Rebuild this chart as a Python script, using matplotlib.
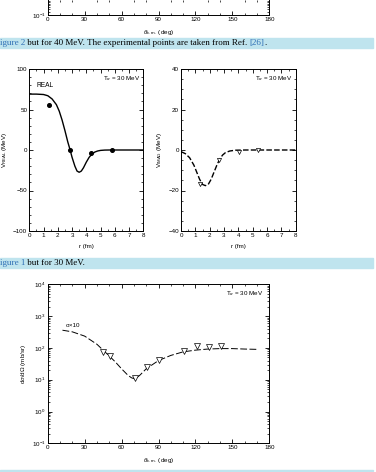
import numpy as np
import matplotlib
matplotlib.use("Agg")
import matplotlib.pyplot as plt
from matplotlib.ticker import MultipleLocator, LogLocator, NullFormatter
from matplotlib.patches import Rectangle

W, H = 376, 472
CAP_BG = "#bfe4ee"
LINK = "#2f6fb5"

plt.rcParams.update({
    "font.family": "Liberation Sans",
    "font.size": 4.5,
    "mathtext.fontset": "custom",
    "mathtext.rm": "Liberation Sans",
    "mathtext.it": "Liberation Sans:italic",
    "axes.linewidth": 0.7,
    "xtick.direction": "in", "ytick.direction": "in",
    "xtick.top": True, "ytick.right": True,
    "xtick.major.size": 3, "ytick.major.size": 3,
    "xtick.minor.size": 1.6, "ytick.minor.size": 1.6,
    "xtick.major.width": 0.6, "ytick.major.width": 0.6,
    "xtick.minor.width": 0.5, "ytick.minor.width": 0.5,
    "xtick.major.pad": 1.5, "ytick.major.pad": 1.5,
})

# --- data ---
r_real = [0, 0.5, 1.0, 1.3, 1.6, 1.9, 2.1, 2.3, 2.5, 2.7, 2.85, 3.0, 3.2, 3.35,
          3.5, 3.65, 3.8, 4.0, 4.2, 4.4, 4.6, 4.8, 5.0, 5.3, 5.6, 8.0]
v_real = [69, 69, 68.5, 67, 63, 56, 48, 37, 24, 10, 1, -9, -20, -26,
          -27.5, -26, -22, -15, -9, -5, -2.5, -1.2, -0.5, -0.1, 0, 0]
r_real_pts = [1.40, 2.88, 4.33, 5.80]
v_real_pts = [55, 0, -3.3, 0]

r_imag = [0, 0.3, 0.6, 0.9, 1.1, 1.3, 1.5, 1.7, 1.9, 2.1, 2.3, 2.5, 2.7, 2.9,
          3.1, 3.4, 3.8, 4.5, 8.0]
v_imag = [-0.8, -1.8, -3.8, -7.5, -11, -14.5, -17, -17.6, -17, -14.5, -11,
          -7.5, -4.5, -2.5, -1.3, -0.5, -0.1, 0, 0]
r_imag_pts = [1.33, 2.67, 4.02, 5.39]
v_imag_pts = [-16.7, -5.1, -1.1, 0]

theta_fit = [12, 20, 30, 40, 45, 50, 55, 60, 65, 68, 71, 75, 80, 90, 100,
             110, 120, 130, 140, 150, 160, 170]
xs_fit = [360, 320, 235, 130, 85, 56, 36, 22, 14, 11.5, 10.5, 14, 22, 40, 58,
          75, 85, 92, 95, 95, 92, 90]
theta_exp = [45.2, 50.6, 70.9, 80.9, 90.7, 110.7, 121.0, 131.0, 140.8]
xs_exp = [74, 56, 11, 24.6, 41.5, 80, 115, 105, 115]

theta_ticks = [0, 30, 60, 90, 120, 150, 180]


def fx(px):
    return px / W


def fy(py):
    return 1 - py / H


fig = plt.figure(figsize=(W / 100, H / 100), dpi=100)


def log_axes(rect, ytop=1e4):
    ax = fig.add_axes(rect)
    ax.set_yscale("log")
    ax.set_xlim(0, 180)
    ax.set_ylim(0.1, ytop)
    ax.set_xticks(theta_ticks)
    ax.xaxis.set_minor_locator(MultipleLocator(10))
    ax.yaxis.set_major_locator(LogLocator(base=10, numticks=10))
    ax.yaxis.set_minor_locator(LogLocator(base=10, subs=np.arange(2, 10), numticks=20))
    ax.yaxis.set_minor_formatter(NullFormatter())
    ax.set_xlabel(r"$\theta_{\rm c.m.}$ (deg)", labelpad=4)
    return ax


# partial panel at the very top: only its lowest strip is on the page
ax0 = log_axes([fx(47.7), fy(15), fx(221.6), 15 / H], ytop=10 ** (-1 + 15 / 31.8))
ax0.spines["top"].set_visible(False)
ax0.tick_params(axis="x", top=False)

# middle left: real potential
ax1 = fig.add_axes([fx(29.3), fy(231), fx(114), 162 / H])
ax1.plot(r_real, v_real, color="black", lw=1.0)
ax1.plot(r_real_pts, v_real_pts, "o", color="black", ms=2.6)
ax1.set_xlim(0, 8)
ax1.set_ylim(-100, 100)
ax1.xaxis.set_major_locator(MultipleLocator(1))
ax1.xaxis.set_minor_locator(MultipleLocator(0.5))
ax1.yaxis.set_major_locator(MultipleLocator(50))
ax1.yaxis.set_minor_locator(MultipleLocator(10))
ax1.set_xlabel("r (fm)", labelpad=4)
ax1.set_ylabel(r"V$_{\rm REAL}$ (MeV)", labelpad=3)
ax1.text(0.5, 78, "REAL", fontsize=4.8)
ax1.text(0.97, 0.97, r"T$_{\alpha}$ = 30 MeV", transform=ax1.transAxes,
         ha="right", va="top", fontsize=4.5)

# middle right: imaginary potential
ax2 = fig.add_axes([fx(181), fy(231), fx(114.7), 162 / H])
ax2.plot(r_imag, v_imag, color="black", lw=1.0, dashes=(4, 1.6))
ax2.plot(r_imag_pts, v_imag_pts, "v", mfc="white", mec="black", mew=0.5, ms=3)
ax2.set_xlim(0, 8)
ax2.set_ylim(-40, 40)
ax2.xaxis.set_major_locator(MultipleLocator(1))
ax2.xaxis.set_minor_locator(MultipleLocator(0.5))
ax2.yaxis.set_major_locator(MultipleLocator(20))
ax2.yaxis.set_minor_locator(MultipleLocator(5))
ax2.set_xlabel("r (fm)", labelpad=4)
ax2.set_ylabel(r"V$_{\rm IMAG}$ (MeV)", labelpad=3)
ax2.text(0.97, 0.97, r"T$_{\alpha}$ = 30 MeV", transform=ax2.transAxes,
         ha="right", va="top", fontsize=4.5)

# bottom: cross section
ax3 = log_axes([fx(47.7), fy(443.3), fx(221.6), 159 / H])
ax3.plot(theta_fit, xs_fit, color="black", lw=0.7, dashes=(7, 2.5))
ax3.plot(theta_exp, xs_exp, "v", mfc="white", mec="black", mew=0.5, ms=4.2)
ax3.set_ylabel(r"d$\sigma$/d$\Omega$ (mb/sr)", labelpad=3)
ax3.text(15, 470, "σ×10", fontsize=4.5)
ax3.text(0.97, 0.97, r"T$_{\alpha}$ = 30 MeV", transform=ax3.transAxes,
         ha="right", va="top", fontsize=4.5)

# caption bars
for top, bot in [(38, 47.5), (258, 268)]:
    fig.add_artist(Rectangle((0, fy(bot)), fx(373), (bot - top) / H,
                             transform=fig.transFigure, color=CAP_BG, zorder=0))
fig.add_artist(Rectangle((0, fy(471)), fx(373), 1.5 / H,
                         transform=fig.transFigure, color=CAP_BG, zorder=0))

cap_kw = dict(fontsize=6.5, family="Liberation Serif", va="center")
t = fig.text(fx(0), fy(43), "igure 2", color=LINK, **cap_kw)
fig.canvas.draw()
bb = t.get_window_extent()
t2 = fig.text(bb.x1 / W, fy(43),
              " but for 40 MeV. The experimental points are taken from Ref. ",
              color="black", **cap_kw)
bb2 = t2.get_window_extent()
t3 = fig.text(bb2.x1 / W, fy(43), "[26]", color=LINK, **cap_kw)
bb3 = t3.get_window_extent()
fig.text(bb3.x1 / W, fy(43), ".", color="black", **cap_kw)

t = fig.text(fx(0), fy(263), "igure 1", color=LINK, **cap_kw)
bb = t.get_window_extent()
fig.text(bb.x1 / W, fy(263), " but for 30 MeV.", color="black", **cap_kw)

fig.savefig("out.png", dpi=100)
